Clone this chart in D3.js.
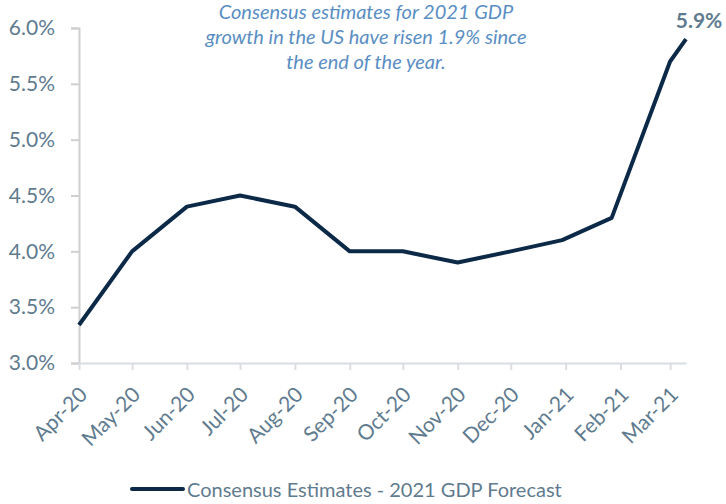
<!DOCTYPE html>
<html>
<head>
<meta charset="UTF-8">
<title>Consensus Estimates - 2021 GDP Forecast</title>
<style>
  body { margin: 0; background: #fff; }
  svg { display: block; font-family: Lato, "Open Sans", sans-serif; }
</style>
</head>
<body>
<svg id="chart" width="726" height="504"></svg>
<script src="https://d3js.org/d3.v7.min.js"></script>
<script>

// data
var obsDates = ["2020-04-01", "2020-05-01", "2020-06-01", "2020-07-01", "2020-08-01",
                "2020-09-01", "2020-10-01", "2020-11-01", "2020-12-01", "2020-12-30",
                "2021-01-27", "2021-03-01", "2021-03-10"];
var gdpForecast = [3.34, 4.0, 4.4, 4.5, 4.4, 4.0, 4.0, 3.9, 4.0, 4.1, 4.3, 5.7, 5.9];
var yTicks = [3.0, 3.5, 4.0, 4.5, 5.0, 5.5, 6.0];
var seriesName = "Consensus Estimates - 2021 GDP Forecast";
var noteLines = ["Consensus estimates for 2021 GDP",
                 "growth in the US have risen 1.9% since",
                 "the end of the year."];

var parse = d3.timeParse("%Y-%m-%d");
var points = obsDates.map(function(d, i) { return { date: parse(d), value: gdpForecast[i] }; });

var svg = d3.select("#chart");
var plotLeft = 79, plotRight = 686, plotTop = 28, plotBottom = 363;

var x = d3.scaleTime()
  .domain([parse("2020-04-01"), parse("2021-03-10")])
  .range([plotLeft, plotRight]);

var y = d3.scaleLinear()
  .domain([3, 6])
  .range([plotBottom, plotTop]);

var labelColor = "#5f7b8f";

// y axis
var yAxis = svg.append("g")
  .attr("transform", "translate(" + plotLeft + ",0)")
  .call(d3.axisLeft(y).tickValues(yTicks).tickSize(8).tickPadding(16)
    .tickFormat(function(d) { return d.toFixed(1) + "%"; }));
yAxis.select(".domain").attr("stroke", "#cfcfcf").attr("stroke-width", 2);
yAxis.selectAll(".tick line").attr("stroke", "#cfcfcf").attr("stroke-width", 2);
yAxis.selectAll(".tick text")
  .attr("fill", labelColor)
  .style("font-size", "21px")
  .style("font-family", "Lato, sans-serif");

// x axis, a tick at each month start
var monthTicks = d3.timeMonth.range(parse("2020-04-01"), parse("2021-03-02"));
var xAxis = svg.append("g")
  .attr("transform", "translate(0," + plotBottom + ")")
  .call(d3.axisBottom(x).tickValues(monthTicks).tickSize(7).tickSizeOuter(0)
    .tickFormat(d3.timeFormat("%b-%y")));
xAxis.select(".domain").attr("stroke", "#d8dee4").attr("stroke-width", 2);
xAxis.selectAll(".tick line").attr("stroke", "#d8dee4").attr("stroke-width", 2);
xAxis.selectAll(".tick text")
  .attr("fill", labelColor)
  .attr("text-anchor", "end")
  .attr("dy", 0)
  .attr("y", 0)
  .attr("transform", "translate(9,33) rotate(-45)")
  .style("font-size", "21px")
  .style("font-family", "Lato, sans-serif");

// line
var line = d3.line()
  .x(function(d) { return x(d.date); })
  .y(function(d) { return y(d.value); });

svg.append("path")
  .datum(points)
  .attr("fill", "none")
  .attr("stroke", "#0c2a48")
  .attr("stroke-width", 4)
  .attr("stroke-linejoin", "round")
  .attr("d", line);

// last value label
var last = points[points.length - 1];
svg.append("text")
  .attr("x", x(last.date) + 13)
  .attr("y", y(last.value) - 11)
  .attr("text-anchor", "middle")
  .attr("fill", labelColor)
  .style("font-size", "21px")
  .style("font-weight", "bold")
  .text(last.value.toFixed(1) + "%");

// annotation
svg.append("g").selectAll("text")
  .data(noteLines)
  .join("text")
  .attr("x", 366)
  .attr("y", function(d, i) { return 19 + i * 25; })
  .attr("text-anchor", "middle")
  .attr("fill", "#5a8ec3")
  .style("font-size", "20px")
  .style("font-style", "italic")
  .text(function(d) { return d; });

// legend
var legend = svg.append("g").attr("transform", "translate(130,489)");
legend.append("line")
  .attr("x1", 2).attr("x2", 53)
  .attr("stroke", "#0c2a48")
  .attr("stroke-width", 4)
  .attr("stroke-linecap", "round");
legend.append("text")
  .attr("x", 57)
  .attr("y", 8)
  .attr("fill", labelColor)
  .style("font-size", "20px")
  .text(seriesName);

</script>
</body>
</html>
